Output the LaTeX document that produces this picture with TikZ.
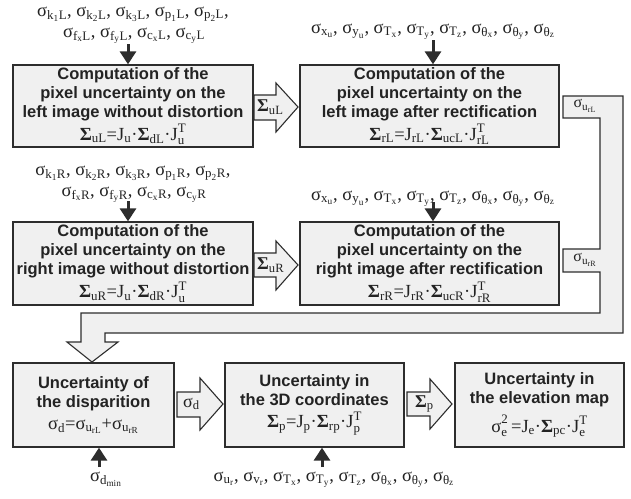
\documentclass[tikz,border=0pt]{standalone}
\usepackage{fontspec}
\usepackage{amsmath}
\setmainfont{Liberation Serif}
\newfontfamily\hv{Liberation Sans}
\usetikzlibrary{arrows.meta}
\definecolor{boxfill}{RGB}{240,240,240}
\definecolor{edge}{RGB}{45,45,45}
\definecolor{txt}{RGB}{35,35,35}
\newcommand\ru[1]{\text{#1}}
\newcommand\sg[1]{$\ru{σ}_{#1}$}
\newcommand\bS{\textbf{Σ}}
\newcommand\fml[1]{{\normalfont\fontsize{18.5}{20}\selectfont$#1$}}
\begin{document}
\begin{tikzpicture}[x=1pt,y=-1pt,
  box/.style={draw=edge, line width=1.3pt, fill=boxfill, inner sep=0pt, align=center,
    text=txt, font=\fontsize{16.5}{19}\selectfont\hv\bfseries},
  blk/.style={draw=edge, line width=1.1pt, fill=boxfill, line join=miter},
  inarr/.style={line width=3pt, draw=edge, -{Triangle[length=13pt,width=16pt]}},
  rowtxt/.style={inner sep=0pt, anchor=base, text=txt, font=\fontsize{18.5}{20}\selectfont},
  lbl/.style={inner sep=0pt, text=txt, font=\fontsize{18}{20}\selectfont},
  slbl/.style={inner sep=0pt, text=txt, font=\fontsize{16}{18}\selectfont}]
\useasboundingbox (0,0) rectangle (631,498);

% big return arrow
\draw[blk] (563,96) -- (623,96) -- (623,333) -- (105,333) -- (105,342) -- (118,342)
  -- (92,362) -- (67,342) -- (81,342) -- (81,313) -- (600,313) -- (600,272)
  -- (563,272) -- (563,249) -- (600,249) -- (600,118) -- (563,118) -- cycle;
\node[slbl] (lurl) at (585,106) {$\ru{σ}_{\ru{u}_{\ru{rL}}}$};
\node[slbl] (lurr) at (585,260) {$\ru{σ}_{\ru{u}_{\ru{rR}}}$};

% boxes
\node[box, minimum width=240pt, minimum height=82pt] (b1) at (133,106)
  {Computation of the\\pixel uncertainty on the\\left image without distortion\\[2.5pt]
   \fml{\bS_{\ru{uL}}\ru{=}\ru{J}_{\ru{u}}\ru{·}\bS_{\ru{dL}}\ru{·}\ru{J}_{\ru{u}}^{\ru{T}}}};
\node[box, minimum width=259pt, minimum height=82pt] (b2) at (429.5,106)
  {Computation of the\\pixel uncertainty on the\\left image after rectification\\[2.5pt]
   \fml{\bS_{\ru{rL}}\ru{=}\ru{J}_{\ru{rL}}\ru{·}\bS_{\ru{ucL}}\ru{·}\ru{J}_{\ru{rL}}^{\ru{T}}}};
\node[box, minimum width=240pt, minimum height=83pt] (b3) at (133,263.5)
  {Computation of the\\pixel uncertainty on the\\right image without distortion\\[2.5pt]
   \fml{\bS_{\ru{uR}}\ru{=}\ru{J}_{\ru{u}}\ru{·}\bS_{\ru{dR}}\ru{·}\ru{J}_{\ru{u}}^{\ru{T}}}};
\node[box, minimum width=259pt, minimum height=83pt] (b4) at (429.5,263.5)
  {Computation of the\\pixel uncertainty on the\\right image after rectification\\[2.5pt]
   \fml{\bS_{\ru{rR}}\ru{=}\ru{J}_{\ru{rR}}\ru{·}\bS_{\ru{ucR}}\ru{·}\ru{J}_{\ru{rR}}^{\ru{T}}}};
\node[box, minimum width=161pt, minimum height=84pt] (b5) at (93.5,405)
  {Uncertainty of\\the disparition\\[3pt]
   \fml{\ru{σ}_{\ru{d}}\ru{=}\ru{σ}_{\ru{u}_{\ru{rL}}}\ru{+}\ru{σ}_{\ru{u}_{\ru{rR}}}}};
\node[box, minimum width=179pt, minimum height=84pt] (b6) at (314.5,405)
  {Uncertainty in\\the 3D coordinates\\[3pt]
   \fml{\bS_{\ru{p}}\ru{=}\ru{J}_{\ru{p}}\ru{·}\bS_{\ru{rp}}\ru{·}\ru{J}_{\ru{p}}^{\ru{T}}}};
\node[box, minimum width=169pt, minimum height=84pt] (b7) at (539.5,405)
  {Uncertainty in\\the elevation map\\[7pt]
   \fml{\ru{σ}_{\ru{e}}^{\ru{\raisebox{2.5pt}{2}}}\,\ru{=}\ru{J}_{\ru{e}}\ru{·}\bS_{\ru{pc}}\ru{·}\ru{J}_{\ru{e}}^{\ru{T}}}};

% block arrows between boxes
\draw[blk] (254,95) -- (276,95) -- (276,83) -- (298,107) -- (276,132) -- (276,120) -- (254,120) -- cycle;
\node[lbl, anchor=west] (l1) at (257,107) {$\bS_{\ru{uL}}$};
\draw[blk] (254,253) -- (276,253) -- (276,241) -- (298,265) -- (276,290) -- (276,277) -- (254,277) -- cycle;
\node[lbl, anchor=west] (l2) at (257,265) {$\bS_{\ru{uR}}$};
\draw[blk] (177,392) -- (200,392) -- (200,378) -- (223,404) -- (200,430) -- (200,417) -- (177,417) -- cycle;
\node[lbl, anchor=west] (l3) at (183,404) {$\ru{σ}_{\ru{d}}$};
\draw[blk] (407,392) -- (430,392) -- (430,379) -- (452,404) -- (430,429) -- (430,416) -- (407,416) -- cycle;
\node[lbl, anchor=west] (l4) at (415,404) {$\bS_{\ru{p}}$};

% parameter rows
\node[rowtxt] (t1a) at (133,16) {\sg{\ru{k}_{\ru{1}}\ru{L}}, \sg{\ru{k}_{\ru{2}}\ru{L}}, \sg{\ru{k}_{\ru{3}}\ru{L}}, \sg{\ru{p}_{\ru{1}}\ru{L}}, \sg{\ru{p}_{\ru{2}}\ru{L}},};
\node[rowtxt] (t1b) at (134,37) {\sg{\ru{f}_{\ru{x}}\ru{L}}, \sg{\ru{f}_{\ru{y}}\ru{L}}, \sg{\ru{c}_{\ru{x}}\ru{L}}, \sg{\ru{c}_{\ru{y}}\ru{L}}};
\node[rowtxt] (t2) at (433,33) {\sg{\ru{x}_{\ru{u}}}, \sg{\ru{y}_{\ru{u}}}, \sg{\ru{T}_{\ru{x}}}, \sg{\ru{T}_{\ru{y}}}, \sg{\ru{T}_{\ru{z}}}, \sg{\ru{θ}_{\ru{x}}}, \sg{\ru{θ}_{\ru{y}}}, \sg{\ru{θ}_{\ru{z}}}};
\node[rowtxt] (t3a) at (133,175) {\sg{\ru{k}_{\ru{1}}\ru{R}}, \sg{\ru{k}_{\ru{2}}\ru{R}}, \sg{\ru{k}_{\ru{3}}\ru{R}}, \sg{\ru{p}_{\ru{1}}\ru{R}}, \sg{\ru{p}_{\ru{2}}\ru{R}},};
\node[rowtxt] (t3b) at (134,196) {\sg{\ru{f}_{\ru{x}}\ru{R}}, \sg{\ru{f}_{\ru{y}}\ru{R}}, \sg{\ru{c}_{\ru{x}}\ru{R}}, \sg{\ru{c}_{\ru{y}}\ru{R}}};
\node[rowtxt] (t4) at (433,200) {\sg{\ru{x}_{\ru{u}}}, \sg{\ru{y}_{\ru{u}}}, \sg{\ru{T}_{\ru{x}}}, \sg{\ru{T}_{\ru{y}}}, \sg{\ru{T}_{\ru{z}}}, \sg{\ru{θ}_{\ru{x}}}, \sg{\ru{θ}_{\ru{y}}}, \sg{\ru{θ}_{\ru{z}}}};
\node[rowtxt] (t5) at (106,481) {\sg{\ru{d}_{\ru{min}}}};
\node[rowtxt] (t6) at (334,481) {\sg{\ru{u}_{\ru{r}}}, \sg{\ru{v}_{\ru{r}}}, \sg{\ru{T}_{\ru{x}}}, \sg{\ru{T}_{\ru{y}}}, \sg{\ru{T}_{\ru{z}}}, \sg{\ru{θ}_{\ru{x}}}, \sg{\ru{θ}_{\ru{y}}}, \sg{\ru{θ}_{\ru{z}}}};

% input arrows
\coordinate (c1) at (128,44);
\draw[inarr] (c1) -- (c1 |- b1.north);
\coordinate (c2) at (433,40);
\draw[inarr] (c2) -- (c2 |- b2.north);
\coordinate (c3) at (128,201);
\draw[inarr] (c3) -- (c3 |- b3.north);
\coordinate (c4) at (433,202);
\draw[inarr] (c4) -- (c4 |- b4.north);
\coordinate (c5) at (99,467);
\draw[inarr] (c5) -- (c5 |- b5.south);
\coordinate (c6) at (322,467);
\draw[inarr] (c6) -- (c6 |- b6.south);
\end{tikzpicture}
\end{document}
